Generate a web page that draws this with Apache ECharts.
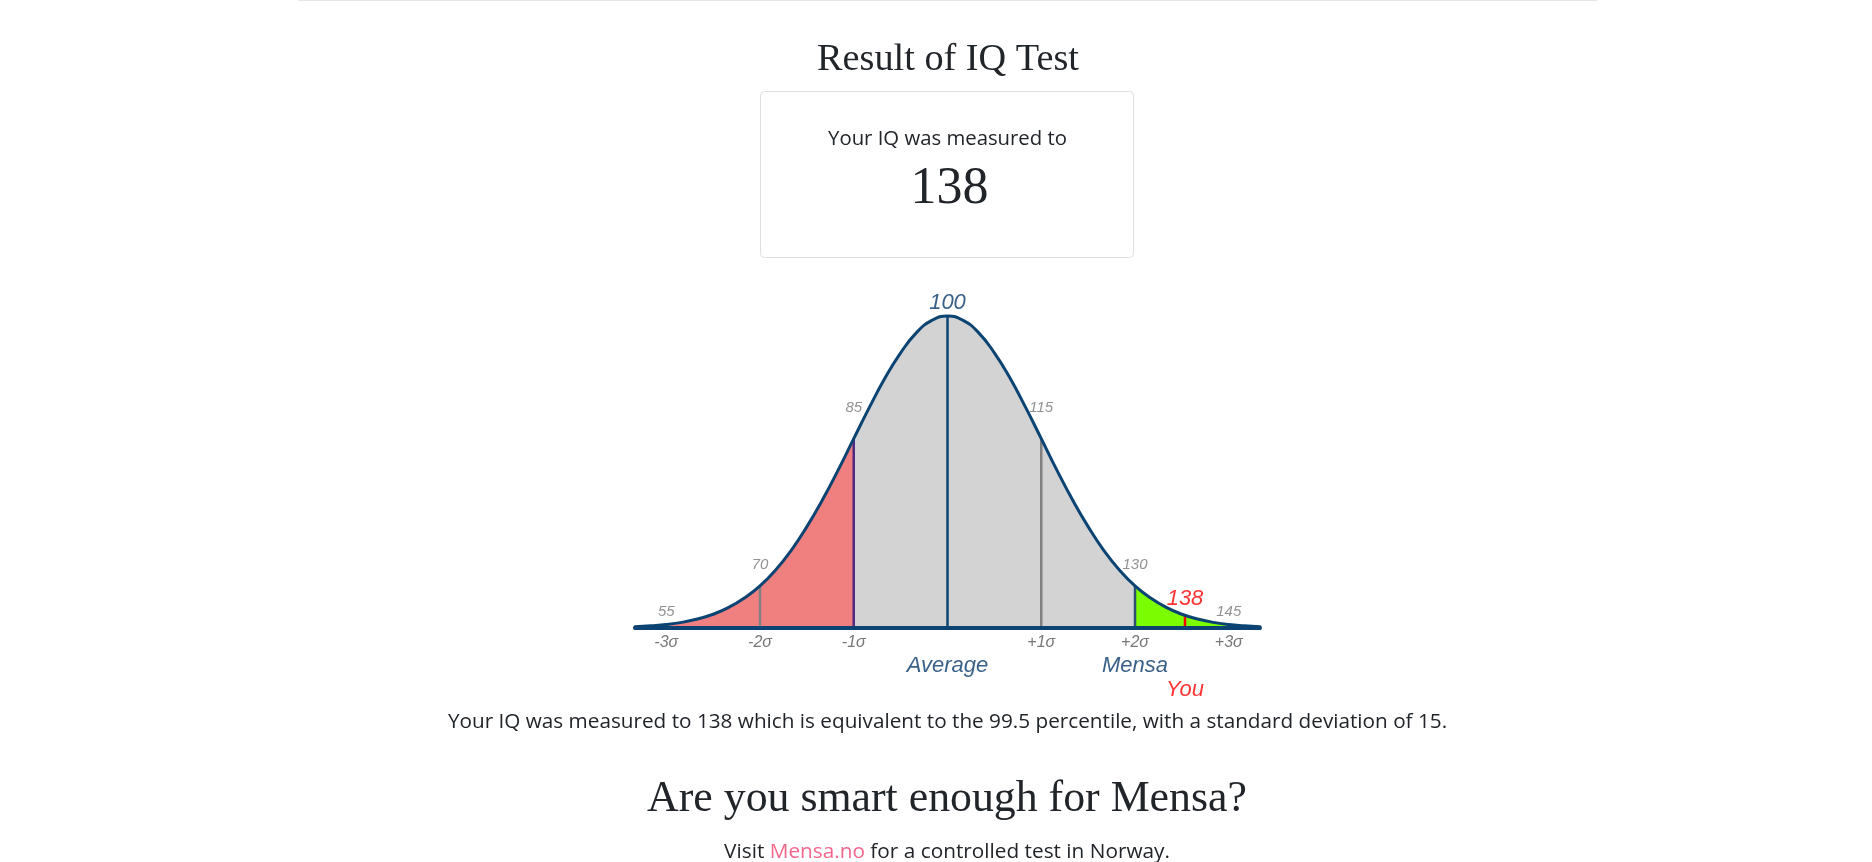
<!DOCTYPE html>
<html>
<head>
<meta charset="utf-8">
<script src="https://cdn.jsdelivr.net/npm/echarts@6/dist/echarts.min.js"></script>
<style>
html,body{margin:0;padding:0;background:#fff;overflow:hidden}
#c{width:1872px;height:862px}
</style>
</head>
<body>
<div id="c"></div>
<script>
// ---- data ----
const iqValues = [50, 52.5, 55, 57.5, 60, 62.5, 65, 67.5, 70, 72.5, 75, 77.5, 80, 82.5, 85, 87.5, 90, 92.5, 95, 97.5,
  100, 102.5, 105, 107.5, 110, 112.5, 115, 117.5, 120, 122.5, 125, 127.5, 130, 132.5, 135, 137.5, 140, 142.5, 145, 147.5, 150];
// relative curve height (peak = 1)
const curveHeights = [0.004, 0.007, 0.011, 0.018, 0.029, 0.044, 0.066, 0.096, 0.135, 0.186, 0.249, 0.325, 0.411, 0.506, 0.607, 0.707, 0.801, 0.882, 0.946, 0.986,
  1.000, 0.986, 0.946, 0.882, 0.801, 0.707, 0.607, 0.506, 0.411, 0.325, 0.249, 0.186, 0.135, 0.096, 0.066, 0.044, 0.029, 0.018, 0.011, 0.007, 0.004];
const lowBandEnd = 85;     // red band: 50..85
const mensaStart = 130;    // green band: 130..150
const guideX = [70, 85, 100, 115, 130, 138];
const guideTop = [0.135, 0.607, 1.000, 0.607, 0.135, 0.040];
const scoreLabels = [55, 70, 85, 100, 115, 130, 145];
const sigmaTicks = [55, 70, 85, 115, 130, 145];
const sigmaLabels = ['-3σ', '-2σ', '-1σ', '+1σ', '+2σ', '+3σ'];
const yourScore = 138;
const yourHeight = 0.040;
const percentile = 99.5;
const stdDev = 15;

// ---- styles ----
const NAVY = '#0b4473';
const NAVY_TXT = '#06386a';
const GRAY = '#777777';
const TEXT = '#212529';
const SANS = 'Open Sans';
const SERIF = 'Liberation Serif';
const LAB = 'Liberation Sans';
const guideColors = ['#808080', '#4e2a84', NAVY, '#808080', '#2c4f72', '#ff0000'];

const pts = iqValues.map((x, i) => [x, curveHeights[i]]);
const redPts = pts.filter(p => p[0] <= lowBandEnd);
const grayPts = pts.filter(p => p[0] >= lowBandEnd && p[0] <= mensaStart);
const greenPts = pts.filter(p => p[0] >= mensaStart);
const hAt = x => curveHeights[iqValues.indexOf(x)];

const mctx = document.createElement('canvas').getContext('2d');
function fit(text, family, target) {
  mctx.font = '100px "' + family + '"';
  return 100 * target / mctx.measureText(text).width;
}
const boxLine = 'Your IQ was measured to';
const para = 'Your IQ was measured to ' + yourScore + ' which is equivalent to the ' + percentile + ' percentile, with a standard deviation of ' + stdDev + '.';
const visitA = 'Visit ', visitB = 'Mensa.no', visitC = ' for a controlled test in Norway.';
const title = 'Result of IQ Test';
const heading = 'Are you smart enough for Mensa?';

const fsBox = fit(boxLine, SANS, 239);
const fsPara = fit(para, SANS, 1000);
const fsVisit = fit(visitA + visitB + visitC, SANS, 446);
const fsTitle = fit(title, SERIF, 262);
const fsHead = fit(heading, SERIF, 600);
const fsBig = 52;
const kSans = 0.388, kSerif = 0.3375;

function txt(text, x, baseline, fs, family, k, fill) {
  return { type: 'text', x: x, y: baseline - k * fs, silent: true,
    style: { text: text, fontSize: fs, fontFamily: family, fill: fill || TEXT, align: 'center', verticalAlign: 'middle' } };
}

const numLabelOffsets = { 55: -12.5, 70: -21, 85: -31, 100: -13, 115: -31, 130: -21, 145: -12.5 };
const labelData = scoreLabels.map(v => ({
  value: [v, hAt(v)],
  label: v === 100
    ? { formatter: String(v), offset: [0, numLabelOffsets[v]], fontSize: 22, color: NAVY_TXT }
    : { formatter: String(v), offset: [0, numLabelOffsets[v]], fontSize: 15, color: GRAY }
}));
labelData.push({ value: [yourScore, yourHeight], label: { formatter: String(yourScore), offset: [0, -16.5], fontSize: 22, color: '#ff0000' } });
labelData.push({ value: [100, 0], label: { formatter: 'Average', offset: [0, 37.5], fontSize: 22, color: NAVY_TXT } });
labelData.push({ value: [mensaStart, 0], label: { formatter: 'Mensa', offset: [0, 37.5], fontSize: 22, color: NAVY_TXT } });
labelData.push({ value: [yourScore, 0], label: { formatter: 'You', offset: [0, 62], fontSize: 22, color: '#ff0000' } });

const areaBase = { type: 'line', smooth: true, symbol: 'none', silent: true, clip: false,
  lineStyle: { width: 0 }, z: 1 };

const chart = echarts.init(document.getElementById('c'), null, { renderer: 'canvas' });
chart.setOption({
  animation: false,
  grid: { left: 635, right: 612, top: 316, bottom: 234, containLabel: false },
  xAxis: {
    type: 'value', min: 50, max: 150, z: 10,
    axisLine: { show: true, onZero: true, lineStyle: { color: NAVY, width: 4 } },
    axisTick: { show: false },
    splitLine: { show: false },
    axisLabel: {
      customValues: sigmaTicks,
      formatter: v => sigmaLabels[sigmaTicks.indexOf(v)] || '',
      margin: 6.5, color: GRAY, fontSize: 16, fontStyle: 'italic', fontFamily: LAB
    }
  },
  yAxis: { type: 'value', min: 0, max: 1, show: false },
  graphic: [
    { type: 'line', silent: true, shape: { x1: 298, y1: 0.5, x2: 1597, y2: 0.5 }, style: { stroke: '#e6e6e6', lineWidth: 1 } },
    txt(title, 948, 73, fsTitle, SERIF, kSerif),
    { type: 'rect', silent: true, shape: { x: 760.5, y: 91.5, width: 373, height: 166, r: 4 }, style: { fill: '#fff', stroke: '#dfdfdf', lineWidth: 1 } },
    txt(boxLine, 947.5, 147.5, fsBox, SANS, kSans),
    txt(String(yourScore), 949.5, 206.5, fsBig, SERIF, kSerif),
    txt(para, 947.5, 730.5, fsPara, SANS, kSans),
    txt(heading, 947, 814, fsHead, SERIF, kSerif),
    { type: 'text', x: 947, y: 860.5 - kSans * fsVisit, silent: true,
      style: { text: '{a|' + visitA + '}{b|' + visitB + '}{a|' + visitC + '}', align: 'center', verticalAlign: 'middle',
        fontSize: fsVisit, fontFamily: SANS, fill: TEXT,
        rich: { a: { fontSize: fsVisit, fontFamily: SANS, fill: TEXT }, b: { fontSize: fsVisit, fontFamily: SANS, fill: '#f2668b' } } } }
  ],
  series: [
    Object.assign({}, areaBase, { name: 'low', data: redPts, areaStyle: { color: '#f08080', opacity: 1 } }),
    Object.assign({}, areaBase, { name: 'mid', data: grayPts, areaStyle: { color: '#d3d3d3', opacity: 1 } }),
    Object.assign({}, areaBase, { name: 'mensa', data: greenPts, areaStyle: { color: '#7cfc00', opacity: 1 } }),
    {
      type: 'custom', name: 'guides', z: 2, silent: true, clip: false,
      data: guideX.map((x, i) => [x, guideTop[i]]),
      renderItem: (params, api) => {
        const p0 = api.coord([api.value(0), 0]);
        const p1 = api.coord([api.value(0), api.value(1)]);
        return { type: 'line', shape: { x1: p0[0], y1: p0[1], x2: p1[0], y2: p1[1] },
          style: { stroke: guideColors[params.dataIndex], lineWidth: 2.5 } };
      }
    },
    {
      type: 'line', name: 'curve', data: pts, smooth: true, symbol: 'none', silent: true, clip: false, z: 3,
      lineStyle: { color: NAVY, width: 3, cap: 'round' }
    },
    {
      type: 'scatter', name: 'labels', data: labelData, symbolSize: 1, silent: true, clip: false, z: 11,
      itemStyle: { color: 'rgba(0,0,0,0)' },
      label: { show: true, position: 'inside', fontStyle: 'italic', fontFamily: LAB }
    }
  ]
});
</script>
</body>
</html>
